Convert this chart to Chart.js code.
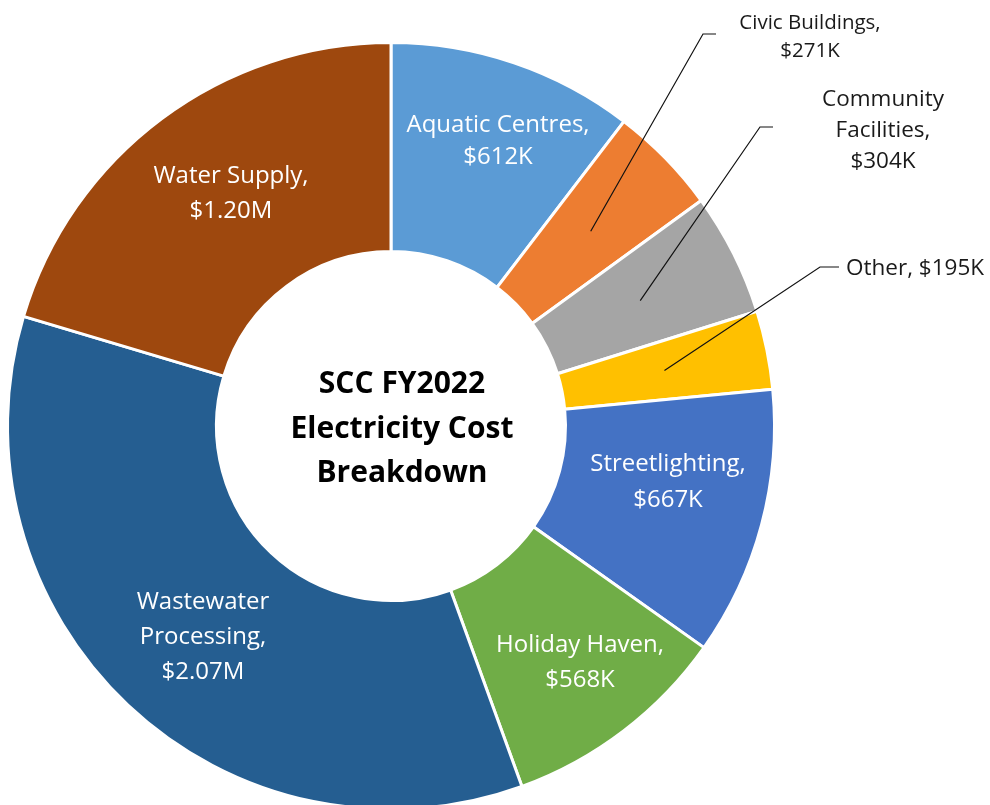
<!DOCTYPE html>
<html>
<head>
<meta charset="utf-8">
<title>SCC FY2022 Electricity Cost Breakdown</title>
<script src="https://cdn.jsdelivr.net/npm/chart.js@4.4.1/dist/chart.umd.min.js"></script>
<style>
  html, body { margin: 0; padding: 0; background: #fff; overflow: hidden; }
  #wrap { width: 990px; height: 852px; }
</style>
</head>
<body>
<div id="wrap"><canvas id="chart" width="990" height="852"></canvas></div>
<script>
// --- data (cost in $K) ---
const categories = ['Aquatic Centres', 'Civic Buildings', 'Community Facilities', 'Other',
  'Streetlighting', 'Holiday Haven', 'Wastewater Processing', 'Water Supply'];
const costs = [612, 271, 304, 195, 667, 568, 2070, 1200];
const valueLabels = ['$612K', '$271K', '$304K', '$195K', '$667K', '$568K', '$2.07M', '$1.20M'];
const sliceColors = ['#5B9BD5', '#ED7D31', '#A5A5A5', '#FFC000', '#4472C4', '#70AD47', '#255E91', '#9E480E'];
const labelLines = [
  ['Aquatic Centres,', '$612K'],
  ['Civic Buildings,', '$271K'],
  ['Community', 'Facilities,', '$304K'],
  ['Other, $195K'],
  ['Streetlighting,', '$667K'],
  ['Holiday Haven,', '$568K'],
  ['Wastewater', 'Processing,', '$2.07M'],
  ['Water Supply,', '$1.20M']
];
const titleLines = ['SCC FY2022', 'Electricity Cost', 'Breakdown'];

// label placement (baseline of first line, line step), leader = elbow + end
const labelLayout = [
  { x: 498, y: 132, lh: 32, size: 24, color: '#fff' },
  { x: 810, y: 29, lh: 28, size: 20.5, color: '#1a1a1a', leader: [[703, 34], [716, 34]] },
  { x: 883, y: 106, lh: 31, size: 22.5, color: '#1a1a1a', leader: [[760, 127], [773, 127]] },
  { x: 846, y: 275, lh: 30, size: 22.5, color: '#1a1a1a', align: 'left', leader: [[820, 267], [839, 267]] },
  { x: 668, y: 471, lh: 36, size: 24, color: '#fff' },
  { x: 580, y: 652, lh: 35, size: 24, color: '#fff' },
  { x: 203, y: 609, lh: 35, size: 24, color: '#fff' },
  { x: 231, y: 183, lh: 35, size: 24, color: '#fff' }
];

const FONT = '"Open Sans", "DejaVu Sans", sans-serif';

const labelPlugin = {
  id: 'sliceLabels',
  afterDatasetsDraw(chart) {
    const ctx = chart.ctx;
    const arcs = chart.getDatasetMeta(0).data;
    ctx.save();
    labelLayout.forEach((lay, i) => {
      if (lay.leader) {
        const p = arcs[i].tooltipPosition(true);
        ctx.beginPath();
        ctx.moveTo(p.x, p.y);
        lay.leader.forEach(q => ctx.lineTo(q[0], q[1]));
        ctx.strokeStyle = '#111';
        ctx.lineWidth = 1.2;
        ctx.stroke();
      }
      ctx.font = `${lay.size}px ${FONT}`;
      ctx.fillStyle = lay.color;
      ctx.textAlign = lay.align || 'center';
      ctx.textBaseline = 'alphabetic';
      labelLines[i].forEach((t, k) => ctx.fillText(t, lay.x, lay.y + k * lay.lh));
    });
    // centre title
    ctx.font = `bold 30px ${FONT}`;
    ctx.fillStyle = '#000';
    ctx.textAlign = 'center';
    titleLines.forEach((t, k) => ctx.fillText(t, 402, 393 + k * 44.5));
    ctx.restore();
  }
};

new Chart(document.getElementById('chart'), {
  type: 'doughnut',
  data: {
    labels: categories,
    datasets: [{
      data: costs,
      backgroundColor: sliceColors,
      borderColor: '#fff',
      borderWidth: 3
    }]
  },
  options: {
    responsive: false,
    animation: false,
    cutout: '45.5%',
    layout: { padding: { top: 41, bottom: 41, left: 6, right: 214 } },
    plugins: {
      legend: { display: false },
      tooltip: { enabled: false }
    }
  },
  plugins: [labelPlugin]
});
</script>
</body>
</html>
